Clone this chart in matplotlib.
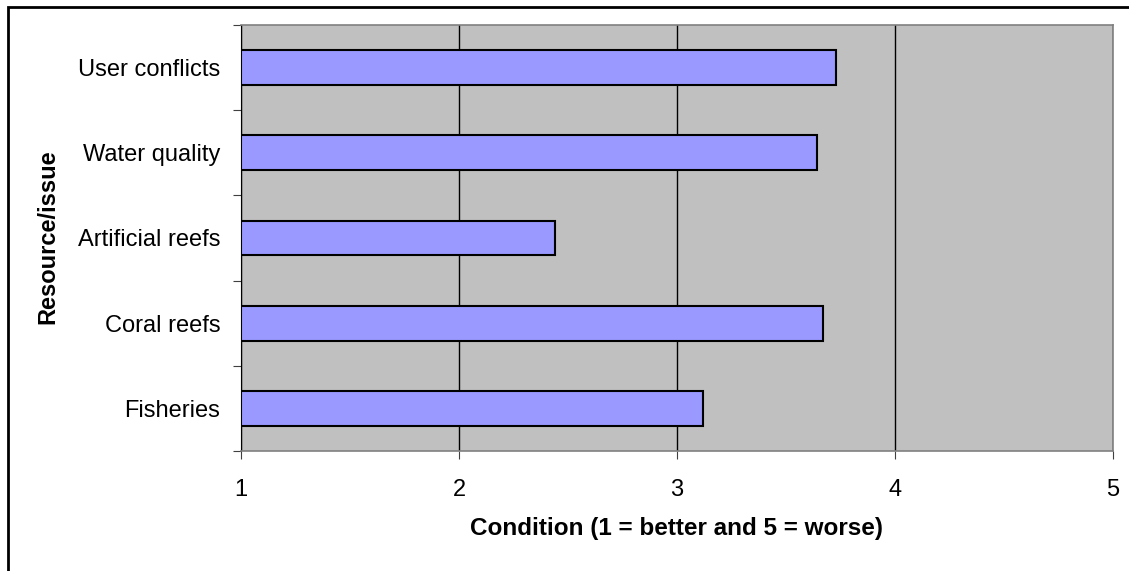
import matplotlib.pyplot as plt
from matplotlib.patches import Rectangle

plt.rcParams['font.family'] = ['Liberation Sans', 'DejaVu Sans']

issues = ['Fisheries', 'Coral reefs', 'Artificial reefs', 'Water quality', 'User conflicts']
condition = [3.12, 3.67, 2.44, 3.64, 3.73]
xticks = [1, 2, 3, 4, 5]

W, H = 1129, 571
fig = plt.figure(figsize=(W / 100, H / 100), dpi=100)

# outer chart frame (open to the right and bottom)
fig.patches.append(Rectangle((8 / W, -0.1), 1.2, 1.1 - 7 / H, transform=fig.transFigure,
                             fill=False, edgecolor='black', linewidth=2))

left, right, top, bottom = 241, 1113, 25, 451
ax = fig.add_axes([left / W, 1 - bottom / H, (right - left) / W, (bottom - top) / H])
ax.set_facecolor('#C0C0C0')

ypos = list(range(len(issues)))
ax.barh(ypos, [c - 1 for c in condition], left=1, height=0.41,
        color='#9999FF', edgecolor='black', linewidth=1.5, zorder=3)

ax.set_xlim(1, 5)
ax.set_ylim(-0.5, len(issues) - 0.5)
ax.set_xticks(xticks)
ax.set_xticklabels([str(t) for t in xticks], fontsize=17)
ax.xaxis.grid(True, color='black', linewidth=1, zorder=1)
ax.set_axisbelow(True)

# category labels between boundary ticks
ax.set_yticks([i - 0.5 for i in range(len(issues) + 1)])
ax.set_yticklabels([])
ax.set_yticks(ypos, minor=True)
ax.set_yticklabels(issues, minor=True, fontsize=17)
ax.tick_params(axis='y', which='minor', length=0, pad=15)
ax.tick_params(axis='y', which='major', length=6, color='#404040')
ax.tick_params(axis='x', length=6, color='#404040', pad=14)

for s in ['top', 'right', 'bottom']:
    ax.spines[s].set_color('#808080')
    ax.spines[s].set_linewidth(1.2)
ax.spines['left'].set_color('black')

ax.set_xlabel('Condition (1 = better and 5 = worse)', fontsize=17.5, fontweight='bold', labelpad=12)
fig.text(48 / W, 1 - 237 / H, 'Resource/issue', rotation=90, fontsize=17,
         fontweight='bold', ha='center', va='center')

fig.savefig('out.png', dpi=100)
